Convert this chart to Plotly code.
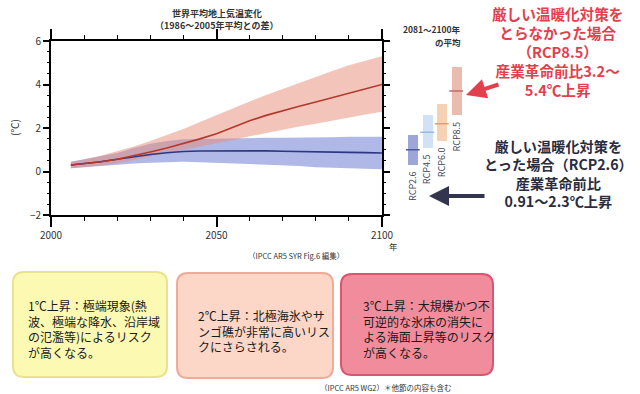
import plotly.graph_objects as go

W, H = 640, 394
JP = "Noto Sans CJK JP"

# ---------------- data ----------------
years = [2006, 2010, 2015, 2020, 2025, 2030, 2035, 2040, 2045, 2050,
         2055, 2060, 2065, 2070, 2075, 2080, 2085, 2090, 2095, 2100]
rcp85_mean = [0.30, 0.36, 0.45, 0.56, 0.72, 0.90, 1.08, 1.28, 1.50, 1.74,
              2.05, 2.33, 2.58, 2.80, 3.00, 3.20, 3.40, 3.58, 3.80, 4.00]
rcp85_low = [0.15, 0.20, 0.28, 0.38, 0.52, 0.68, 0.85, 1.00, 1.15, 1.28,
             1.45, 1.62, 1.78, 1.93, 2.07, 2.20, 2.35, 2.50, 2.62, 2.75]
rcp85_high = [0.45, 0.55, 0.72, 0.92, 1.15, 1.40, 1.68, 1.95, 2.28, 2.60,
              2.92, 3.22, 3.52, 3.80, 4.08, 4.35, 4.62, 4.88, 5.10, 5.30]
rcp26_mean = [0.30, 0.36, 0.45, 0.56, 0.68, 0.78, 0.86, 0.92, 0.94, 0.95,
              0.96, 0.97, 0.95, 0.93, 0.91, 0.90, 0.89, 0.88, 0.87, 0.85]
rcp26_low = [0.15, 0.20, 0.26, 0.32, 0.37, 0.40, 0.43, 0.45, 0.43, 0.40,
             0.38, 0.35, 0.32, 0.30, 0.25, 0.20, 0.18, 0.15, 0.12, 0.10]
rcp26_high = [0.45, 0.56, 0.70, 0.85, 1.08, 1.28, 1.40, 1.48, 1.50, 1.52,
              1.53, 1.55, 1.55, 1.55, 1.55, 1.55, 1.58, 1.60, 1.60, 1.60]

scenarios = ["RCP2.6", "RCP4.5", "RCP6.0", "RCP8.5"]
avg_mean = [1.0, 1.8, 2.2, 3.7]
avg_low = [0.3, 1.1, 1.4, 2.6]
avg_high = [1.7, 2.6, 3.1, 4.8]

x_ticks = [2000, 2050, 2100]
x_minor = [2010, 2020, 2030, 2040, 2060, 2070, 2080, 2090]
y_ticks = [-2, 0, 2, 4, 6]
y_minor = [-1.5, -1, -0.5, 0.5, 1, 1.5, 2.5, 3, 3.5, 4.5, 5, 5.5]

# ---------------- styles ----------------
bar_fill = ["#9ca7d8", "#d2e2f6", "#f6d2b4", "#e9bcae"]
bar_line = ["#4b5a9e", "#9bb8df", "#df9f72", "#c06a6a"]
lab_col = "#3a3f5a"


def px(x):
    return x / W


def py(y):
    return 1 - y / H


fig = go.Figure()

# bands
fig.add_trace(go.Scatter(x=years, y=rcp26_high, mode="lines", line=dict(width=0),
                         showlegend=False, hoverinfo="skip"))
fig.add_trace(go.Scatter(x=years, y=rcp26_low, mode="lines", line=dict(width=0),
                         fill="tonexty", fillcolor="rgba(112,126,214,0.55)",
                         showlegend=False, hoverinfo="skip"))
fig.add_trace(go.Scatter(x=years, y=rcp85_high, mode="lines", line=dict(width=0),
                         showlegend=False, hoverinfo="skip"))
fig.add_trace(go.Scatter(x=years, y=rcp85_low, mode="lines", line=dict(width=0),
                         fill="tonexty", fillcolor="rgba(232,140,118,0.50)",
                         showlegend=False, hoverinfo="skip"))
fig.add_trace(go.Scatter(x=years, y=rcp26_mean, mode="lines",
                         line=dict(color="#2b3782", width=1.6), showlegend=False))
fig.add_trace(go.Scatter(x=years, y=rcp85_mean, mode="lines",
                         line=dict(color="#b4382e", width=1.6), showlegend=False))

# 2081-2100 average bars
fig.add_trace(go.Bar(x=list(range(len(scenarios))),
                     y=[h - l for h, l in zip(avg_high, avg_low)],
                     base=avg_low, width=0.68, marker=dict(color=bar_fill, line=dict(width=0)),
                     xaxis="x2", yaxis="y2", showlegend=False))
fig.add_trace(go.Scatter(x=list(range(len(scenarios))), y=avg_mean, mode="markers",
                         marker=dict(symbol="line-ew", size=10,
                                     line=dict(color=bar_line, width=1.5)),
                         xaxis="x2", yaxis="y2", showlegend=False))

# invisible trace to activate minor-tick overlay axes
fig.add_trace(go.Scatter(x=[2000], y=[0], mode="markers", marker=dict(opacity=0),
                         xaxis="x3", yaxis="y3", showlegend=False, hoverinfo="skip"))

x0p, x1p, y0p, y1p = 51, 382, 41, 215
xdom = [px(x0p), px(x1p)]
ydom = [py(y1p), py(y0p)]
axis_common = dict(showline=True, linecolor="black", linewidth=2, mirror="ticks",
                   ticks="outside", tickcolor="black", showgrid=False, zeroline=False,
                   automargin=False,
                   tickfont=dict(family=JP, size=10, color="#333333"))
fig.update_layout(
    width=W, height=H, margin=dict(l=0, r=0, t=0, b=0),
    paper_bgcolor="white", plot_bgcolor="white",
    xaxis=dict(domain=xdom, range=[2000, 2100], tickvals=x_ticks,
               ticklen=10, tickwidth=1.5, anchor="y", **axis_common),
    yaxis=dict(domain=ydom, range=[-2, 6], tickvals=y_ticks,
               ticklen=6, tickwidth=1.5, anchor="x", **axis_common),
    xaxis3=dict(overlaying="x", domain=xdom, range=[2000, 2100], tickvals=x_minor,
                ticks="outside", ticklen=5, tickwidth=1, tickcolor="black",
                showticklabels=False, showline=False, showgrid=False, zeroline=False,
                mirror="ticks", anchor="y3", automargin=False),
    yaxis3=dict(overlaying="y", domain=ydom, range=[-2, 6], tickvals=y_minor,
                ticks="outside", ticklen=3, tickwidth=1, tickcolor="black",
                showticklabels=False, showline=False, showgrid=False, zeroline=False,
                mirror="ticks", anchor="x3", automargin=False),
    xaxis2=dict(domain=[px(405.5), px(463.5)], range=[-0.5, 3.5], visible=False,
                anchor="y2", automargin=False),
    yaxis2=dict(domain=ydom, range=[-2, 6], visible=False, anchor="x2",
                automargin=False),
    bargap=0,
)

ann = []


def text(x, y, s, size, color="#222222", bold=False, xanchor="center", yanchor="middle",
         align="center", angle=0, xref="paper", yref="paper"):
    ann.append(dict(x=x, y=y, xref=xref, yref=yref, text=f"<b>{s}</b>" if bold else s,
                    showarrow=False, xanchor=xanchor, yanchor=yanchor, align=align,
                    textangle=angle, font=dict(family=JP, size=size, color=color)))


text(px(217), py(13), "世界平均地上気温変化", 9, color="#333333", bold=True)
text(px(216), py(25.5), "（1986〜2005年平均との差）", 9, color="#333333", bold=True)
text(px(15), py(128), "(℃)", 10, color="#333333", angle=-90)
text(px(393), py(246), "年", 8.5, color="#333333")
text(px(296), py(256), "（IPCC AR5 SYR Fig.6 編集）", 7.5, color="#333333")
text(px(463), py(29), "2081〜2100年", 8.5, color="#333333", bold=True, xanchor="right")
text(px(463), py(42), "の平均", 8.5, color="#333333", bold=True, xanchor="right")

# rotated scenario labels below bars
for i, s in enumerate(scenarios):
    ann.append(dict(x=i, y=avg_low[i] - 0.2, xref="x2", yref="y2", text=s,
                    showarrow=False, textangle=-90, xanchor="center", yanchor="top",
                    font=dict(family=JP, size=9, color=lab_col)))

text(px(557), py(51),
     "厳しい温暖化対策を<br>とらなかった場合<br>（RCP8.5）<br>産業革命前比3.2〜<br>5.4℃上昇",
     14.6, color="#e2404c", bold=True)
text(px(558), py(173.5),
     "厳しい温暖化対策を<br>とった場合（RCP2.6）<br>産業革命前比<br>0.91〜2.3℃上昇",
     14.2, color="#2a2c40", bold=True)

# arrows (offsets in pixels from tip to tail)
ann.append(dict(x=px(466), y=py(95), xref="paper", yref="paper", ax=34, ay=-11,
                axref="pixel", ayref="pixel", showarrow=True, arrowhead=2, arrowsize=1,
                arrowwidth=4, arrowcolor="#e2404c", text=""))
ann.append(dict(x=px(429), y=py(196), xref="paper", yref="paper", ax=57, ay=0,
                axref="pixel", ayref="pixel", showarrow=True, arrowhead=2, arrowsize=1,
                arrowwidth=4, arrowcolor="#33344e", text=""))

# boxes
boxes = [
    (13, 272, 167, 377, "#fbf9b2", "#e8e38c",
     "1℃上昇：極端現象(熱<br>波、極端な降水、沿岸域<br>の氾濫等)によるリスク<br>が高くなる。", 26, 328.5),
    (177, 273, 333, 378, "#fcd6c7", "#eeab98",
     "2℃上昇：北極海氷やサ<br>ンゴ礁が非常に高いリス<br>クにさらされる。", 196, 330.5),
    (341, 274, 493, 375, "#f08c9c", "#d9566e",
     "3℃上昇：大規模かつ不<br>可逆的な氷床の消失に<br>よる海面上昇等のリスク<br>が高くなる。", 361, 328.5),
]
shapes = []
r = 11
for (bx0, by0, bx1, by1, fill, line, s, tx, ty) in boxes:
    rx, ry = r / W, r / H
    X0, X1, Y0, Y1 = px(bx0), px(bx1), py(by1), py(by0)
    path = (f"M {X0 + rx},{Y0} L {X1 - rx},{Y0} Q {X1},{Y0} {X1},{Y0 + ry} "
            f"L {X1},{Y1 - ry} Q {X1},{Y1} {X1 - rx},{Y1} L {X0 + rx},{Y1} "
            f"Q {X0},{Y1} {X0},{Y1 - ry} L {X0},{Y0 + ry} Q {X0},{Y0} {X0 + rx},{Y0} Z")
    shapes.append(dict(type="path", path=path, xref="paper", yref="paper",
                       fillcolor=fill, line=dict(color=line, width=2), layer="below"))
    text(px(tx), py(ty), s, 12, color="#1a1a1a", xanchor="left", align="left")

text(px(385), py(387), "（IPCC AR5 WG2）＊他節の内容も含む", 7.5, color="#333333")

fig.update_layout(annotations=ann, shapes=shapes)
fig.write_html("out.html", config={"displayModeBar": False},
               post_script="document.body.style.margin='0';document.body.style.overflow='hidden';")
